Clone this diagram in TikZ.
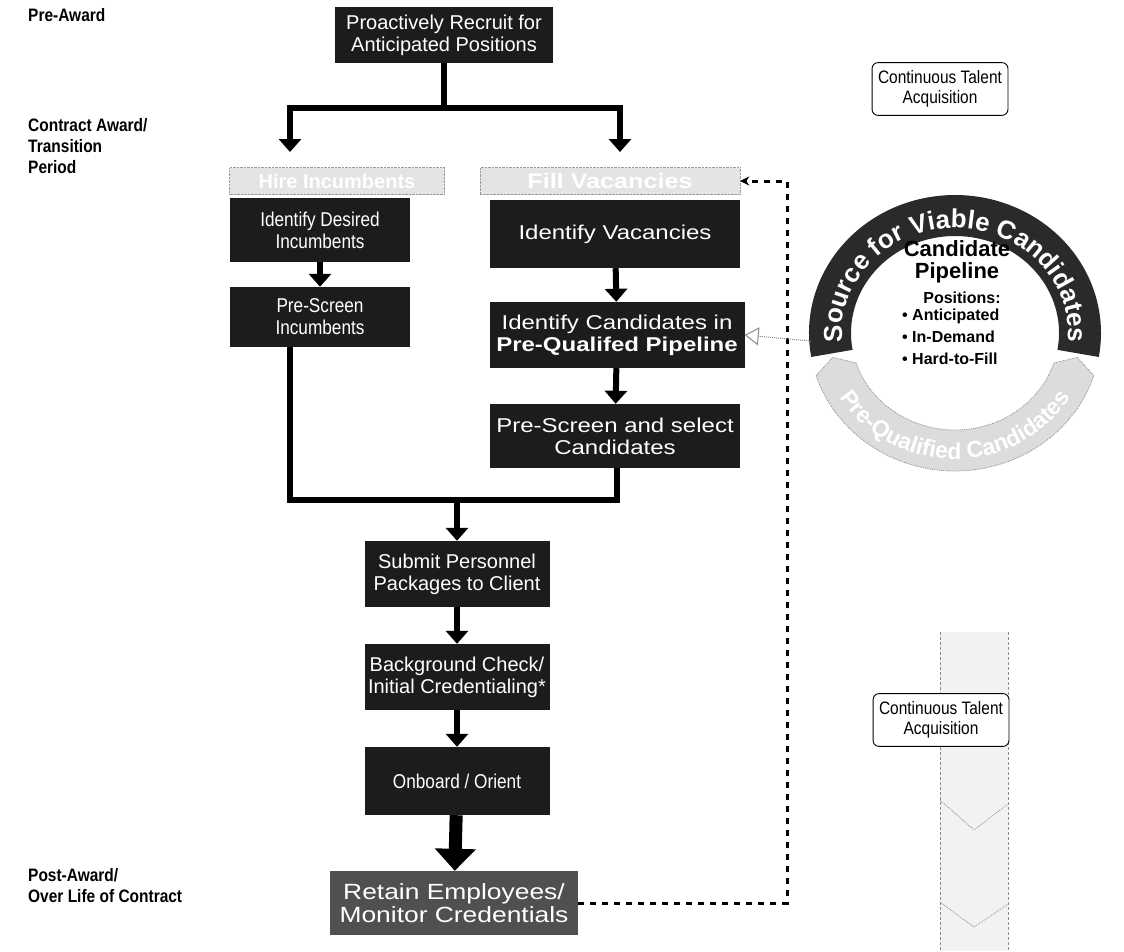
\documentclass[tikz,border=0pt]{standalone}
\usepackage{fontspec}
\setmainfont{Liberation Sans}
\newfontfamily\narrowfont{Liberation Sans}[FakeStretch=0.86]
\newfontfamily\widefont{Liberation Sans}[FakeStretch=1.2]
\usetikzlibrary{positioning,arrows.meta,calc,decorations.text}
\definecolor{boxfill}{HTML}{1C1C1C}
\definecolor{retainfill}{HTML}{505050}
\definecolor{headfill}{HTML}{E4E4E4}
\definecolor{ringdark}{HTML}{2A2A2A}
\definecolor{ringlight}{HTML}{DCDCDC}
\definecolor{pipefill}{HTML}{F2F2F2}
\tikzset{
  stepbox/.style={fill=boxfill, text=white, font=\fontsize{20}{22}\selectfont, align=center, inner sep=2pt},
  narrowtext/.style={font=\narrowfont\fontsize{20}{22}\selectfont},
  widetext/.style={font=\widefont\fontsize{20}{22}\selectfont},
  headbox/.style={fill=headfill, draw=black!40, densely dotted, text=white, inner sep=0pt, minimum height=27pt},
  phase/.style={font=\narrowfont\bfseries\fontsize{18}{21}\selectfont, align=left, inner sep=0pt, anchor=north west},
  talent/.style={draw=black, line width=0.9pt, rounded corners=6pt, fill=white, align=center, font=\narrowfont\fontsize{18}{20}\selectfont, inner xsep=6pt, inner ysep=8pt},
  bar/.style={line width=6pt},
  flow/.style={line width=6pt, -{Triangle[length=13pt, width=22pt]}},
  bigflow/.style={line width=13pt, -{Triangle[length=22pt, width=40pt]}},
  feedback/.style={line width=3pt, dash pattern=on 6pt off 6pt, -{Stealth[length=9pt, width=9pt]}},
}

\begin{document}
\begin{tikzpicture}[x=1pt, y=1pt]
  \useasboundingbox (0,0) rectangle (1124,-951);
  % phases
  \node[phase] (pre) at (28,-8) {Pre-Award};
  \node[phase] (award) at (28,-118) {Contract Award/\\Transition\\Period};
  \node[phase] (post) at (28,-868) {Post-Award/\\Over Life of Contract};
  % main flow
  \node[stepbox, minimum width=218pt, minimum height=56pt] (recruit) at (444,-35) {Proactively Recruit for\\Anticipated Positions};
  \node[headbox, font=\bfseries\fontsize{20}{22}\selectfont, minimum width=215pt] (headL) at (337,-181) {Hire Incumbents};
  \node[headbox, font=\widefont\bfseries\fontsize{21}{22}\selectfont, minimum width=260pt] (headR) at (610,-181) {Fill Vacancies};
  \node[stepbox, narrowtext, minimum width=180pt, minimum height=64pt] (desired) at (320,-230) {Identify Desired\\Incumbents};
  \node[stepbox, narrowtext, minimum width=180pt, minimum height=60pt] (prescrI) at (320,-317) {Pre-Screen\\Incumbents};
  \node[stepbox, widetext, minimum width=250pt, minimum height=68pt] (vacancies) at (615,-234) {Identify Vacancies};
  \node[stepbox, widetext, minimum width=255pt, minimum height=66pt] (cands) at (617,-335) {Identify Candidates in\\\textbf{Pre-Qualifed Pipeline}};
  \node[stepbox, widetext, minimum width=250pt, minimum height=64pt] (prescrC) at (615,-436) {Pre-Screen and select\\Candidates};
  \node[stepbox, minimum width=185pt, minimum height=66pt] (submit) at (457,-574) {Submit Personnel\\Packages to Client};
  \node[stepbox, minimum width=185pt, minimum height=66pt] (bgcheck) at (457,-677) {Background Check/\\Initial Credentialing*};
  \node[stepbox, narrowtext, minimum width=185pt, minimum height=68pt] (onboard) at (457,-781) {Onboard / Orient};
  \node[stepbox, font=\widefont\fontsize{22}{23}\selectfont, fill=retainfill, minimum width=248pt, minimum height=64pt] (retain) at (454,-903) {Retain Employees/\\Monitor Credentials};
  % fork and join points
  \coordinate (split) at (444,-108);
  \coordinate (forkL) at (290,-152);
  \coordinate (forkR) at (620,-152);
  \coordinate (joinL) at (290,-500);
  \coordinate (joinR) at (617,-500);
  \coordinate (join) at (457,-500);
  \coordinate (fbx) at (787,0);
  \draw[bar] (recruit.south) -- (split);
  \draw[flow] (split) -| (forkL);
  \draw[flow] (split) -| (forkR);
  \draw[flow] (desired) -- (prescrI);
  \draw[flow] (vacancies) -- (cands);
  \draw[flow] (cands) -- (prescrC);
  \draw[bar] (prescrI.south -| joinL) |- (joinR) -- (prescrC.south -| joinR);
  \draw[flow] (join) -- (submit);
  \draw[flow] (submit) -- (bgcheck);
  \draw[flow] (bgcheck) -- (onboard);
  \draw[bigflow] (onboard) -- (retain);
  \draw[feedback] (retain.east) -- (retain.east -| fbx) -- (headR.east -| fbx) -- (headR.east);
  % candidate pipeline ring
  \begin{scope}[shift={(955,-333)}]
    \fill[ringlight] (198:146 and 138) arc[start angle=198, end angle=342, x radius=146, y radius=138] -- (348:125 and 117) -- (342:104 and 97)
      arc[start angle=342, end angle=198, x radius=104, y radius=97] -- (192:125 and 117) -- cycle;
    \draw[black!45, densely dotted, line width=0.8pt] (198:146 and 138) arc[start angle=198, end angle=342, x radius=146, y radius=138] -- (348:125 and 117) -- (342:104 and 97)
      arc[start angle=342, end angle=198, x radius=104, y radius=97] -- (192:125 and 117) -- cycle;
    \fill[ringdark] (190:146 and 138) arc[start angle=190, end angle=-10, x radius=146, y radius=138] -- (-10:104 and 97)
      arc[start angle=-10, end angle=190, x radius=104, y radius=97] -- cycle;
    \path[decorate, decoration={text along path, text align=center,
      text={|\color{white}\bfseries\fontsize{26}{26}\selectfont|Source for Viable Candidates}}]
      (188:113 and 105) arc[start angle=188, end angle=-8, x radius=113, y radius=105];
    \path[decorate, decoration={text along path, text align=center,
      text={|\color{white}\bfseries\fontsize{23}{23}\selectfont|Pre-Qualified Candidates}}]
      (203:134 and 126) arc[start angle=203, end angle=337, x radius=134, y radius=126];
    \node[align=center, font=\bfseries\fontsize{22}{22}\selectfont, inner sep=0pt] (pipetitle) at (2,71) {Candidate\\Pipeline};
    \node[font=\bfseries\fontsize{16}{22}\selectfont, inner sep=0pt] (positions) at (7,35) {Positions:};
    \node[align=left, font=\bfseries\fontsize{16}{22}\selectfont, inner sep=0pt, anchor=north west] (kinds) at (-53,24)
      {\textbullet\ Anticipated\\\textbullet\ In-Demand\\\textbullet\ Hard-to-Fill};
    \coordinate (ringL) at (-144,-8);
  \end{scope}
  \draw[black!45, densely dotted, line width=1pt, -{Triangle[open, length=14pt, width=18pt]}] (ringL) -- (cands.east);
  % continuous talent acquisition
  \node[talent] (talentT) at (940,-89) {Continuous Talent\\Acquisition};
  \coordinate (pipeT) at (974,-632);
  \coordinate (pipeB) at (974,-951);
  \fill[pipefill] ($(pipeT)+(-34,0)$) rectangle ($(pipeB)+(34,0)$);
  \draw[black!45, densely dashed, line width=0.8pt] ($(pipeT)+(-34,0)$) -- ($(pipeB)+(-34,0)$)
    ($(pipeT)+(34,0)$) -- ($(pipeB)+(34,0)$);
  \draw[black!45, densely dotted, line width=0.8pt] ($(pipeT)+(-34,-168)$) -- ($(pipeT)+(0,-198)$) -- ($(pipeT)+(34,-172)$)
    ($(pipeT)+(-34,-270)$) -- ($(pipeT)+(0,-295)$) -- ($(pipeT)+(34,-272)$);
  \node[talent] (talentB) at (941,-720) {Continuous Talent\\Acquisition};
\end{tikzpicture}
\end{document}
